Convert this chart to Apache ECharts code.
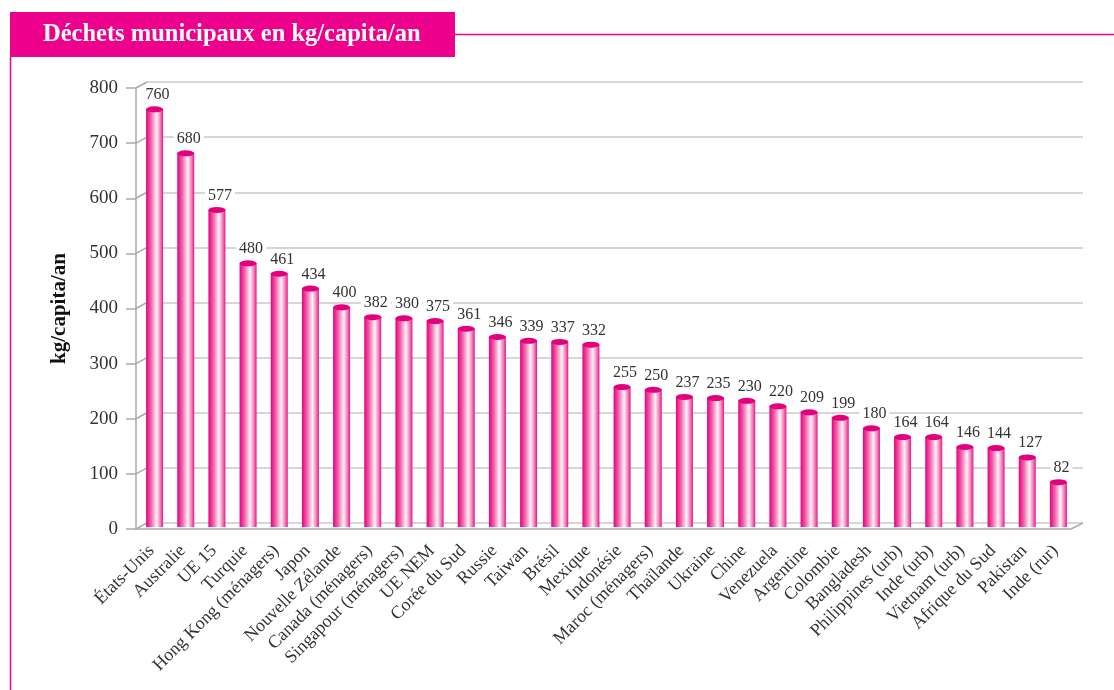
<!DOCTYPE html>
<html>
<head>
<meta charset="utf-8">
<script src="https://cdn.jsdelivr.net/npm/echarts@6/dist/echarts.min.js"></script>
<style>
  html, body { margin: 0; padding: 0; background: #fff; }
  #chart { width: 1114px; height: 690px; }
</style>
</head>
<body>
<div id="chart"></div>
<script>
var categories = ['États-Unis', 'Australie', 'UE 15', 'Turquie', 'Hong Kong (ménagers)', 'Japon',
  'Nouvelle Zélande', 'Canada (ménagers)', 'Singapour (ménagers)', 'UE NEM', 'Corée du Sud',
  'Russie', 'Taiwan', 'Brésil', 'Mexique', 'Indonésie', 'Maroc (ménagers)', 'Thaïlande',
  'Ukraine', 'Chine', 'Venezuela', 'Argentine', 'Colombie', 'Bangladesh', 'Philippines (urb)',
  'Inde (urb)', 'Vietnam (urb)', 'Afrique du Sud', 'Pakistan', 'Inde (rur)'];
var values = [760, 680, 577, 480, 461, 434, 400, 382, 380, 375, 361, 346, 339, 337, 332,
  255, 250, 237, 235, 230, 220, 209, 199, 180, 164, 164, 146, 144, 127, 82];
var yMin = 0, yMax = 800, yStep = 100;

var pink = '#EC008C';
var serif = '"Liberation Serif", "DejaVu Serif", serif';

var chart = echarts.init(document.getElementById('chart'));

var option = {
  backgroundColor: '#fff',
  animation: false,
  grid: [
    { left: 136, right: 43, top: 88, bottom: 161 },   // front axes
    { left: 147, right: 31, top: 82, bottom: 167 },   // back wall grid lines
    { left: 139, right: 40, top: 87, bottom: 163 }    // bars
  ],
  xAxis: [
    {
      gridIndex: 0, type: 'category', data: categories,
      axisLine: { lineStyle: { color: '#aaa', width: 1.5 } },
      axisTick: { length: 10, lineStyle: { color: '#aaa', width: 1.5 } },
      axisLabel: {
        interval: 0, rotate: 45, margin: 19,
        fontFamily: serif, fontSize: 18, color: '#333'
      }
    },
    { gridIndex: 1, type: 'category', data: categories, show: false },
    { gridIndex: 2, type: 'category', data: categories, show: false }
  ],
  yAxis: [
    {
      gridIndex: 0, type: 'value', min: yMin, max: yMax, interval: yStep,
      name: 'kg/capita/an', nameLocation: 'middle', nameGap: 66, nameRotate: 90,
      nameTextStyle: { fontFamily: serif, fontSize: 21, fontWeight: 'bold', color: '#111' },
      axisLine: { show: true, lineStyle: { color: '#aaa', width: 1.5 } },
      axisTick: { show: true, length: 10, lineStyle: { color: '#aaa', width: 1.5 } },
      splitLine: { show: false },
      axisLabel: { fontFamily: serif, fontSize: 19, color: '#333', margin: 18 }
    },
    {
      gridIndex: 1, type: 'value', min: yMin, max: yMax, interval: yStep,
      axisLine: { show: false }, axisTick: { show: false }, axisLabel: { show: false },
      splitLine: { show: true, lineStyle: { color: '#c8c8c8', width: 1.5 } }
    },
    {
      gridIndex: 2, type: 'value', min: yMin, max: yMax, show: false,
      splitLine: { show: false }
    }
  ],
  series: [
    {
      type: 'bar', xAxisIndex: 2, yAxisIndex: 2, data: values, barWidth: 17,
      itemStyle: {
        color: new echarts.graphic.LinearGradient(0, 0, 1, 0, [
          { offset: 0, color: '#E6007E' },
          { offset: 0.3, color: '#F065AC' },
          { offset: 0.62, color: '#FFF2F8' },
          { offset: 0.85, color: '#F27AB6' },
          { offset: 1, color: '#E8118A' }
        ])
      },
      z: 3
    },
    {
      type: 'pictorialBar', xAxisIndex: 2, yAxisIndex: 2, data: values,
      symbol: 'circle', symbolSize: [17, 6], symbolPosition: 'end', symbolOffset: [0, '-50%'],
      itemStyle: { color: '#E4007C', borderColor: '#F7B3D6', borderWidth: 1 },
      label: {
        show: true, position: 'top', distance: 3, offset: [3, 0],
        fontFamily: serif, fontSize: 16, color: '#333',
        backgroundColor: '#fff', padding: [0, 3, 0, 3]
      },
      z: 4
    }
  ]
};
chart.setOption(option);

// decoration: title box, frame lines, and 3D wall/floor edges
function edges() {
  var g = [];
  var frontR = chart.getModel().getComponent('grid', 0).coordinateSystem.getRect();
  var backR = chart.getModel().getComponent('grid', 1).coordinateSystem.getRect();
  for (var v = yMin; v <= yMax; v += yStep) {
    var yf = chart.convertToPixel({ yAxisIndex: 0 }, v);
    var yb = chart.convertToPixel({ yAxisIndex: 1 }, v);
    g.push({ type: 'line', shape: { x1: frontR.x, y1: yf, x2: backR.x, y2: yb },
      style: { stroke: '#aaa', lineWidth: 1.5 } });
  }
  var yf0 = chart.convertToPixel({ yAxisIndex: 0 }, yMin);
  var yb0 = chart.convertToPixel({ yAxisIndex: 1 }, yMin);
  g.push({ type: 'line', shape: { x1: frontR.x + frontR.width, y1: yf0, x2: backR.x + backR.width, y2: yb0 },
    style: { stroke: '#aaa', lineWidth: 1.5 } });
  g.push({ type: 'rect', shape: { x: 10, y: 12, width: 445, height: 45 }, style: { fill: pink }, z: 10 });
  g.push({ type: 'text', x: 43, y: 35, z: 11,
    style: { text: 'Déchets municipaux en kg/capita/an', fill: '#fff', font: 'bold 24.5px ' + serif, verticalAlign: 'middle' } });
  g.push({ type: 'line', shape: { x1: 455, y1: 34.5, x2: 1114, y2: 34.5 }, style: { stroke: pink, lineWidth: 1.5 } });
  g.push({ type: 'line', shape: { x1: 10.5, y1: 57, x2: 10.5, y2: 690 }, style: { stroke: pink, lineWidth: 1.5 } });
  chart.setOption({ graphic: { elements: g } });
}
edges();
</script>
</body>
</html>
